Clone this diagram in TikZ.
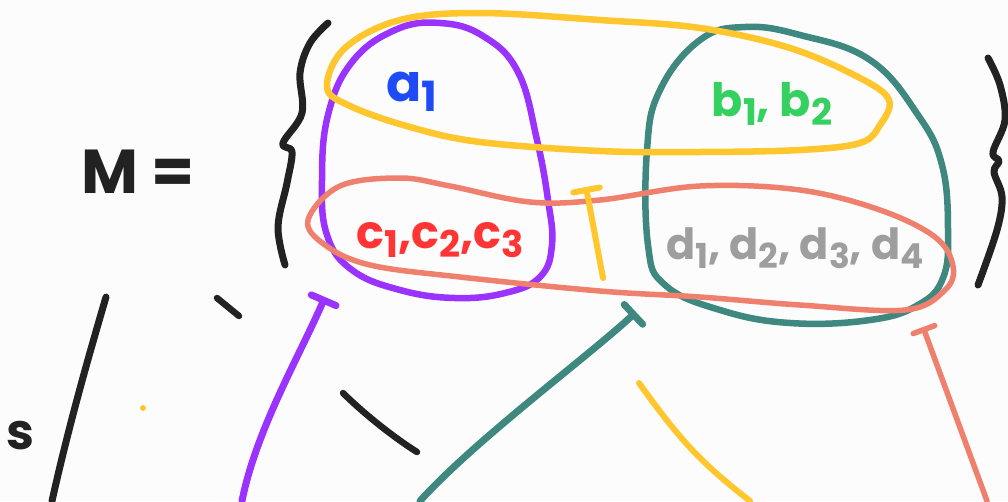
\documentclass[tikz,border=0pt]{standalone}
\usepackage{fontspec}
\usepackage{graphicx}
\setmainfont{Poppins}
\usetikzlibrary{arrows.meta}
\definecolor{bgc}{HTML}{FCFCFC}
\definecolor{inkblack}{HTML}{222222}
\definecolor{setpurple}{HTML}{9B33FF}
\definecolor{setyellow}{HTML}{FFC62E}
\definecolor{setteal}{HTML}{3E8880}
\definecolor{setsalmon}{HTML}{F0806E}
\definecolor{txtblue}{HTML}{1E4BF5}
\definecolor{txtgreen}{HTML}{35D160}
\definecolor{txtred}{HTML}{FF3535}
\definecolor{txtgray}{HTML}{9E9E9E}
\newcommand{\dsub}[1]{\raisebox{-0.2em}{\scalebox{0.8}{#1}}}
\tikzset{
  stroke/.style={line width=7pt, line cap=round, line join=round},
  setloop/.style={stroke, line width=6.5pt},
  tbar/.style={stroke, {Bar[width=27pt,round]}-},
  hand/.style={inner sep=0pt, font=\bfseries\fontsize{#1}{#1}\selectfont},
}
\begin{document}
\begin{tikzpicture}[x=1pt,y=-1pt]
\useasboundingbox (0,0) rectangle (1008,501);
\fill[bgc] (0,0) rectangle (1008,501);

% braces
\draw[stroke, inkblack] plot[smooth, tension=0.6] coordinates {(328,23) (310,43) (300,73) (302,113) (283,143) (292,152) (287,183) (278,227) (285,265)};
\draw[stroke, inkblack] plot[smooth, tension=0.6] coordinates {(988,58) (1000,85) (1005,120) (993,152) (999,161) (994,172) (1002,197) (997,230) (978,285)};

% set loops
\draw[setloop, setpurple] plot[smooth cycle, tension=0.7] coordinates {(440,23) (483,36) (518,72) (537,140) (548,200) (552,245) (540,277) (505,293) (455,298) (400,290) (352,270) (327,235) (322,180) (328,115) (352,62) (395,30)};
\draw[setloop, setteal] plot[smooth cycle, tension=0.7] coordinates {(745,27) (800,35) (870,60) (918,115) (942,165) (948,230) (943,278) (918,305) (870,320) (790,323) (720,310) (665,285) (648,245) (647,150) (660,90) (700,40)};
\draw[setloop, setyellow] plot[smooth cycle, tension=0.6] coordinates {(327,87) (345,48) (400,20) (480,13) (600,20) (700,28) (790,48) (860,78) (889,100) (880,125) (860,143) (800,150) (700,152) (600,151) (480,142) (410,127) (350,106)};
\draw[setloop, setsalmon, line width=5.5pt] plot[smooth cycle, tension=0.6] coordinates {(308,220) (340,186) (400,178) (450,186) (530,202) (600,200) (700,186) (800,190) (880,210) (935,237) (953,266) (945,290) (905,310) (800,305) (700,297) (600,291) (460,277) (370,265) (325,245)};

% texts
\node[hand=52pt, text=txtblue] (a) at (412,92) {a\dsub{1}};
\node[hand=46pt, text=txtgreen] (b) at (772,104) {b\dsub{1}, b\dsub{2}};
\node[hand=46pt, text=txtred] (c) at (440,240) {c\dsub{1},c\dsub{2},c\dsub{3}};
\node[hand=43pt, text=txtgray] (d) at (795,248) {d\dsub{1}, d\dsub{2}, d\dsub{3}, d\dsub{4}};
\node[hand=62pt, text=inkblack] (M) at (138,172) {M =};
\node[hand=50pt, text=inkblack] (s) at (20,436) {s};

% connector end points
\coordinate (pTop) at (325,297);
\coordinate (pEnd) at (242,501);
\coordinate (tTop) at (636,312);
\coordinate (tEnd) at (420,501);
\coordinate (yTop) at (586,187);
\coordinate (yEnd) at (603,278);
\coordinate (y2Top) at (639,383);
\coordinate (y2End) at (750,501);
\coordinate (sTop) at (923,327);
\coordinate (sEnd) at (987,501);

% connectors
\draw[tbar, setpurple] (pTop) .. controls (300,355) and (256,430) .. (pEnd);
\draw[tbar, setteal] (tTop) .. controls (590,355) and (475,440) .. (tEnd);
\draw[tbar, setyellow, line width=6pt] (yTop) -- (yEnd);
\draw[stroke, setyellow, line width=6pt] (y2Top) .. controls (680,440) and (700,462) .. (y2End);
\draw[tbar, setsalmon, line width=5.5pt, {Bar[width=23pt,round]}-] (sTop) -- (sEnd);

% black marks
\draw[stroke, inkblack] (106,297) .. controls (92,345) and (70,420) .. (52,501);
\draw[stroke, inkblack, line width=6.5pt] (217,298) -- (239,316);
\draw[stroke, inkblack, line width=6.5pt] (343,393) .. controls (360,410) and (390,435) .. (417,452);
\fill[setyellow] (143,408) circle (3pt);
\end{tikzpicture}
\end{document}
